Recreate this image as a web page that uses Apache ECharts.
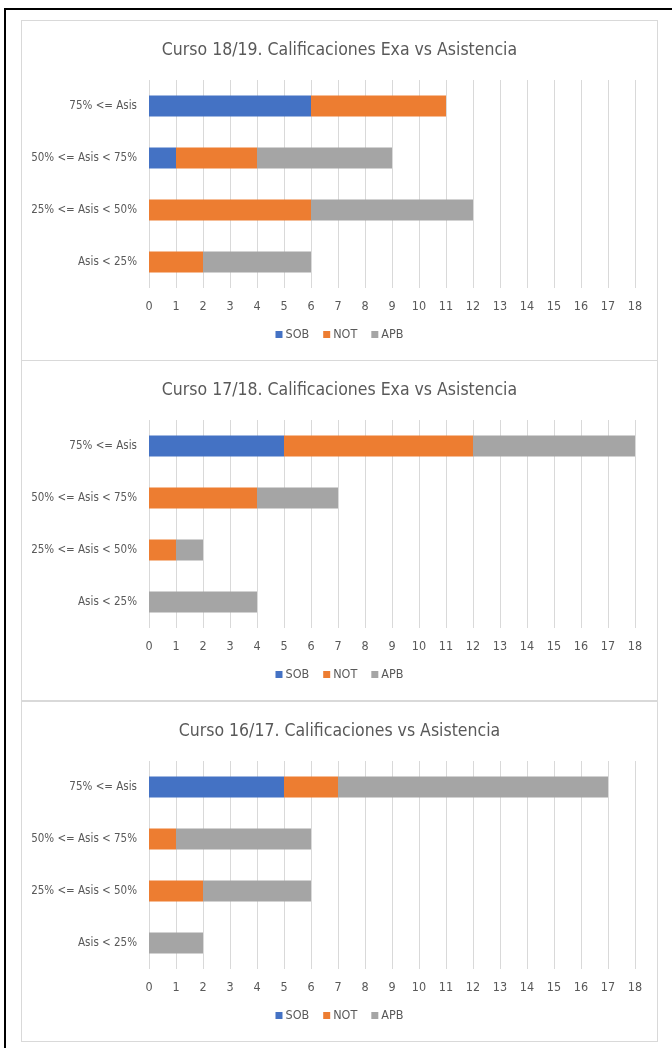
<!DOCTYPE html>
<html>
<head>
<meta charset="utf-8">
<script src="https://cdn.jsdelivr.net/npm/echarts@6/dist/echarts.min.js"></script>
<style>
  html, body { margin: 0; padding: 0; background: #fff; }
  body { width: 672px; height: 1048px; position: relative; overflow: hidden; }
  #frame { position: absolute; left: 4px; top: 8px; width: 672px; height: 1060px; border-left: 2px solid #000; border-top: 2px solid #000; }
  .panel { position: absolute; left: 21px; width: 635px; height: 339px; border: 1px solid #D9D9D9; background: #fff; }
</style>
</head>
<body>
<div id="frame"></div>
<div class="panel" id="p1" style="top:20px"></div>
<div class="panel" id="p2" style="top:360px"></div>
<div class="panel" id="p3" style="top:701px"></div>
<script>
const categories = ["Asis < 25%", "25% <= Asis < 50%", "50% <= Asis < 75%", "75% <= Asis"];
const seriesNames = ["SOB", "NOT", "APB"];
const xTicks = [0, 18, 1];

const titles = [
  "Curso 18/19. Calificaciones Exa vs Asistencia",
  "Curso 17/18. Calificaciones Exa vs Asistencia",
  "Curso 16/17. Calificaciones vs Asistencia"
];

// values in category order: Asis<25, 25-50, 50-75, >=75
const sob1819 = [0, 0, 1, 6];
const not1819 = [2, 6, 3, 5];
const apb1819 = [4, 6, 5, 0];

const sob1718 = [0, 0, 0, 5];
const not1718 = [0, 1, 4, 7];
const apb1718 = [4, 1, 3, 6];

const sob1617 = [0, 0, 0, 5];
const not1617 = [0, 2, 1, 2];
const apb1617 = [2, 4, 5, 10];

const colors = ["#4472C4", "#ED7D31", "#A5A5A5"];
const FONT = '"Liberation Sans Narrow", "DejaVu Sans Condensed", "Open Sans", sans-serif';
const TXT = "#595959";

function build(id, title, sob, not, apb) {
  const chart = echarts.init(document.getElementById(id), null, { renderer: 'canvas' });
  const data = [sob, not, apb];
  chart.setOption({
    animation: false,
    color: colors,
    textStyle: { fontFamily: FONT },
    title: {
      text: title, left: 'center', top: 15,
      textStyle: { fontFamily: FONT, fontSize: 17.5, fontWeight: 'normal', color: TXT }
    },
    legend: {
      data: seriesNames, bottom: 14, left: 'center',
      icon: 'rect', itemWidth: 7, itemHeight: 7, itemGap: 14,
      textStyle: { fontFamily: FONT, fontSize: 12.5, color: TXT, padding: [0, 0, 0, -2] }
    },
    grid: { left: 127, right: 22, top: 59, height: 208 },
    xAxis: {
      type: 'value', min: xTicks[0], max: xTicks[1], interval: xTicks[2],
      axisLine: { show: false }, axisTick: { show: false },
      splitLine: { show: true, lineStyle: { color: '#D9D9D9', width: 1 } },
      axisLabel: { fontFamily: FONT, fontSize: 12.5, color: TXT, margin: 12 }
    },
    yAxis: {
      type: 'category', data: categories,
      axisLine: { show: false }, axisTick: { show: false },
      axisLabel: { fontFamily: FONT, fontSize: 11.5, color: TXT, margin: 12 }
    },
    series: seriesNames.map((n, i) => ({
      name: n, type: 'bar', stack: 'total', barWidth: 21,
      data: data[i].map(v => v === 0 ? null : v),
      itemStyle: { color: colors[i] }
    }))
  });
}

build('p1', titles[0], sob1819, not1819, apb1819);
build('p2', titles[1], sob1718, not1718, apb1718);
build('p3', titles[2], sob1617, not1617, apb1617);
</script>
</body>
</html>
